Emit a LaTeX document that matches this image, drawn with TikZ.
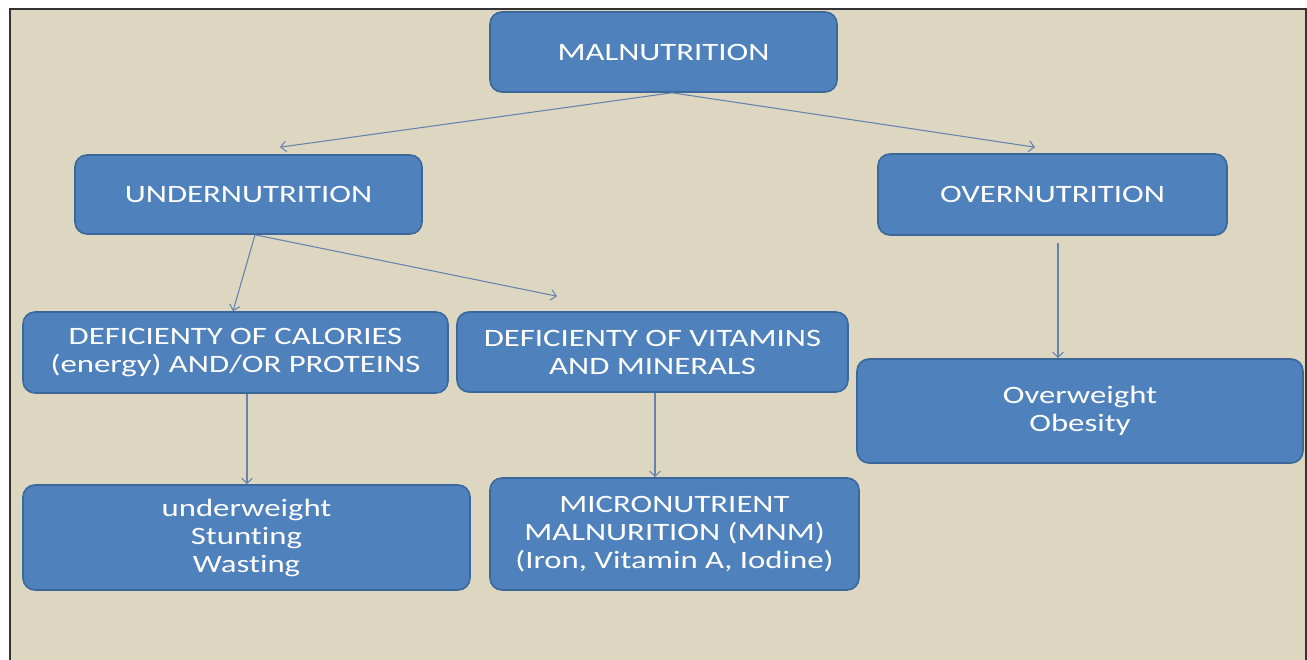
\documentclass[tikz,border=0pt]{standalone}
\usepackage{fontspec}
\setmainfont{Carlito}[FakeStretch=1.31, Ligatures=NoCommon, RawFeature=-liga]
\usetikzlibrary{arrows.meta,calc}
\definecolor{paper}{HTML}{DDD7C1}
\definecolor{boxfill}{HTML}{4F81BD}
\definecolor{boxline}{HTML}{3C679B}
\definecolor{linkcol}{HTML}{6683AE}
\tikzset{
  nutbox/.style={draw=boxline, line width=1.2pt, fill=boxfill, rounded corners=9pt,
    text=white, align=center, inner sep=0pt,
    font=\fontsize{18.75}{21}\selectfont},
  link/.style={draw=linkcol, line width=0.8pt, -{Straight Barb[length=4pt,width=8pt]}}
}
\begin{document}
\begin{tikzpicture}
            \begin{scope}[x=0.75pt, y=-0.75pt]
            \useasboundingbox (0,0) rectangle (1307,660);
            \fill[white] (0,0) rectangle (1307,660);
            \fill[paper] (10,9) rectangle (1306,660);
            \draw[black!80, line width=2pt] (10,660) -- (10,9) -- (1306,9) -- (1306,660);

            \node[nutbox, minimum width=260.25pt, minimum height=60pt] (mal) at (663.5,52) {MALNUTRITION};
            \node[nutbox, minimum width=260.25pt, minimum height=59.25pt] (under) at (248.5,194.5) {UNDERNUTRITION};
            \node[nutbox, minimum width=261.75pt, minimum height=60.75pt] (over) at (1052.5,194.5) {OVERNUTRITION};
            \node[nutbox, minimum width=318.75pt, minimum height=60.75pt] (cal) at (235.5,352.5) {DEFICIENTY OF CALORIES\\(energy) AND/OR PROTEINS};
            \node[nutbox, minimum width=293.25pt, minimum height=60pt] (vit) at (652.5,352) {DEFICIENTY OF VITAMINS\\AND MINERALS};
            \node[nutbox, minimum width=334.5pt, minimum height=78pt] (obes) at (1080,411) {Overweight\\Obesity};
            \node[nutbox, minimum width=335.25pt, minimum height=78.75pt] (uw) at (246.5,537.5) {underweight\\Stunting\\Wasting};
            \node[nutbox, minimum width=276.75pt, minimum height=84pt] (mnm) at (674.5,534) {MICRONUTRIENT\\MALNURITION (MNM)\\(Iron, Vitamin A, Iodine)};

            \draw[link] ($(mal.south)+(8.5,0)$) -- ($(under.north)+(31.5,-7)$);
            \draw[link] ($(mal.south)+(8.5,0)$) -- ($(over.north)+(-17.5,-6)$);
            \draw[link] ($(under.south)+(6.5,0)$) -- ($(cal.north)+(-2.5,0)$);
            \draw[link] ($(under.south)+(6.5,0)$) -- ($(vit.north)+(-95.5,-15)$);
            \draw[link] ($(cal.south)+(11.5,0)$) -- ($(uw.north)+(0.5,0)$);
            \draw[link] ($(vit.south)+(2.5,0)$) -- ($(mnm.north)+(-19.5,0)$);
            \draw[link] ($(over.south)+(5.5,7)$) -- ($(obes.north)+(-22,0)$);
            \end{scope}
        \end{tikzpicture}
\end{document}
